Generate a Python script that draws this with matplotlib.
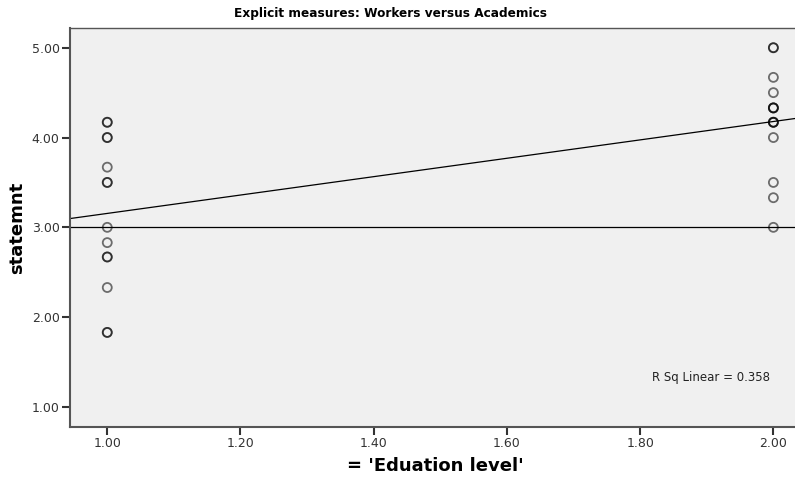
import numpy as np
import matplotlib.pyplot as plt

# education level groups and their statement scores
workers = [4.17, 4.17, 4.00, 4.00, 3.67, 3.50, 3.50, 3.00, 2.83, 2.67, 2.67, 2.33, 1.83, 1.83]
academics = [5.00, 5.00, 4.67, 4.50, 4.33, 4.33, 4.33, 4.17, 4.17, 4.17, 4.00, 3.50, 3.33, 3.00]

x = np.array([1.0] * len(workers) + [2.0] * len(academics))
y = np.array(workers + academics)

slope, intercept = np.polyfit(x, y, 1)
r2 = np.corrcoef(x, y)[0, 1] ** 2

fig = plt.figure(figsize=(7.95, 4.79), dpi=100)
ax = fig.add_axes([0.088, 0.1086, 0.92, 0.833])
ax.set_facecolor('#f0f0f0')

ax.scatter(x, y, s=42, facecolors='none', edgecolors='black', linewidths=1.3, alpha=0.55, zorder=3)

xs = np.array([0.9, 2.1])
ax.plot(xs, slope * xs + intercept, color='black', lw=0.9, zorder=2)
ax.axhline(3.0, color='black', lw=0.9, zorder=2)

ax.set_xlim(0.944, 2.042)
ax.set_ylim(0.777, 5.22)
ax.set_xticks([1.0, 1.2, 1.4, 1.6, 1.8, 2.0])
ax.set_yticks([1.0, 2.0, 3.0, 4.0, 5.0])
ax.xaxis.set_major_formatter(plt.FormatStrFormatter('%.2f'))
ax.yaxis.set_major_formatter(plt.FormatStrFormatter('%.2f'))
ax.tick_params(direction='out', length=6, width=1.5, pad=1.5, color='#333333',
               labelsize=9, labelcolor='#333333')

for side in ['left', 'bottom', 'top']:
    ax.spines[side].set_color('#555555')
    ax.spines[side].set_linewidth(1.5)
ax.spines['top'].set_linewidth(1.0)
ax.spines['right'].set_visible(False)

ax.text(0.957, 0.123, f'R Sq Linear = {r2:.3f}', transform=ax.transAxes,
        ha='right', va='center', fontsize=8.5, color='#222222')

fig.text(391 / 795, 1 - 13 / 479, 'Explicit measures: Workers versus Academics',
         ha='center', va='center', fontsize=8.75, fontweight='bold')
ax.set_xlabel("= 'Eduation level'", fontsize=13, fontweight='bold', labelpad=5)
ax.set_ylabel('statemnt', fontsize=13, fontweight='bold', labelpad=4)

fig.savefig('out.png', dpi=100)
